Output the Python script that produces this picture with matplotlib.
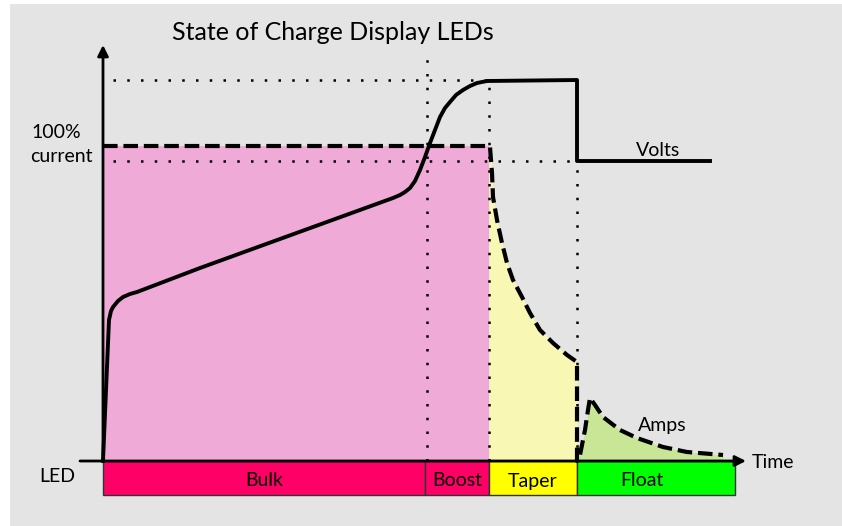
import matplotlib
matplotlib.use('Agg')
import matplotlib.pyplot as plt
from matplotlib.patches import Rectangle

# chart units: x = time ticks from the vertical axis, y = level above the time axis
# voltage curve
volt_t = [0, 6, 8, 10, 15, 20, 27, 34, 97, 290, 297, 302, 307, 312, 317, 322, 327, 332,
          337, 342, 347, 353, 360, 367, 374, 384, 474, 474, 607]
volt_v = [0, 141, 150, 154, 160, 164, 167, 169, 193, 263, 266, 269, 273, 280, 291, 304, 318, 331,
          344, 353, 359, 366, 371, 375, 378, 380, 381, 300, 300]

# current (amps) curve: bulk/boost plateau, taper decay, float bump
amp_bulk_t = [0, 386]
amp_bulk_v = [315, 315]
amp_taper_t = [386, 387, 389, 390, 394, 399, 404, 410, 419, 427, 437, 450, 464, 474]
amp_taper_v = [315, 314, 288, 264, 241, 218, 198, 181, 164, 148, 131, 118, 106, 99]
amp_float_t = [474, 477, 482, 485, 487, 492, 500, 517, 534, 560, 584, 620]
amp_float_v = [0, 6, 31, 51, 63, 56, 44, 31, 23, 14, 9, 6]

# LED stages along the time axis
stages = ['Bulk', 'Boost', 'Taper', 'Float']
stage_start = [0, 322, 386, 474]
stage_width = [322, 64, 88, 158]
stage_colors = ['#ff0066', '#ff0066', '#ffff00', '#00ff00']
label_shift = [0, 0, 0, -14]

# reference levels
v_top = 381
v_float = 300
t_boost = 324
t_taper = 386
t_float = 474

fig = plt.figure(figsize=(8.42, 5.26), dpi=100, facecolor='white')
ax = fig.add_axes([0, 0, 1, 1])
ax.set_xlim(-103, 739)
ax.set_ylim(-65, 461)
ax.axis('off')
ax.add_patch(Rectangle((10 / 842, 0), 832 / 842, 522 / 526, transform=ax.transAxes,
                       facecolor='#e4e4e4', edgecolor='none', zorder=0))

font = 'Lato'
fs = 14

# shaded areas under the current curve
ax.fill_between(amp_bulk_t, 0, amp_bulk_v, color='#efaad7', lw=0, zorder=1)
ax.fill_between(amp_taper_t, 0, amp_taper_v, color='#f8f8b4', lw=0, zorder=1)
ax.fill_between(amp_float_t, 0, amp_float_v, color='#c8e696', lw=0, zorder=1)

# dotted guide lines
dot = dict(color='black', lw=1.8, ls=(0, (1, 4.5)), zorder=2)
ax.plot([10, t_taper], [v_top, v_top], **dot)
ax.plot([10, t_float + 10], [v_float, v_float], **dot)
ax.plot([t_boost, t_boost], [0, 411], **dot)
ax.plot([t_taper, t_taper], [0, v_top], **dot)
ax.plot([t_float, t_float], [0, v_float], **dot)

# volts (solid) and amps (dashed)
ax.plot(volt_t, volt_v, color='black', lw=2.8, solid_joinstyle='round', zorder=4)
amp_t = amp_bulk_t + amp_taper_t[1:] + amp_float_t
amp_v = amp_bulk_v + amp_taper_v[1:] + amp_float_v
ax.plot(amp_t, amp_v, color='black', lw=3, ls=(0, (3.5, 1.4)), dash_capstyle='butt', zorder=4)

# LED bar
ax.bar(stage_start, [-34] * 4, width=stage_width, align='edge', bottom=0,
       color=stage_colors, edgecolor='#333333', lw=1, zorder=3)
for name, s, w, d in zip(stages, stage_start, stage_width, label_shift):
    ax.text(s + w / 2 + d, -20, name, ha='center', va='center', fontsize=fs, family=font, zorder=5)

# axes with arrows
arrow = dict(arrowstyle='-|>', lw=2, color='black', mutation_scale=16, shrinkA=0, shrinkB=0)
ax.annotate('', xy=(0, 416), xytext=(0, 0), arrowprops=arrow, zorder=6)
ax.annotate('', xy=(643, 0), xytext=(-23, 0), arrowprops=arrow, zorder=6)

# labels
ax.text(230, 428, 'State of Charge Display LEDs', ha='center', va='center', fontsize=18, family=font)
ax.text(-72, 329, '100%', ha='left', va='center', fontsize=fs, family=font)
ax.text(-73, 305, 'current', ha='left', va='center', fontsize=fs, family=font)
ax.text(-46, -16, 'LED', ha='center', va='center', fontsize=fs, family=font)
ax.text(555, 311, 'Volts', ha='center', va='center', fontsize=fs, family=font)
ax.text(559, 36, 'Amps', ha='center', va='center', fontsize=fs, family=font)
ax.text(649, -2, 'Time', ha='left', va='center', fontsize=fs, family=font)

fig.savefig('out.png', dpi=100, facecolor='white')
